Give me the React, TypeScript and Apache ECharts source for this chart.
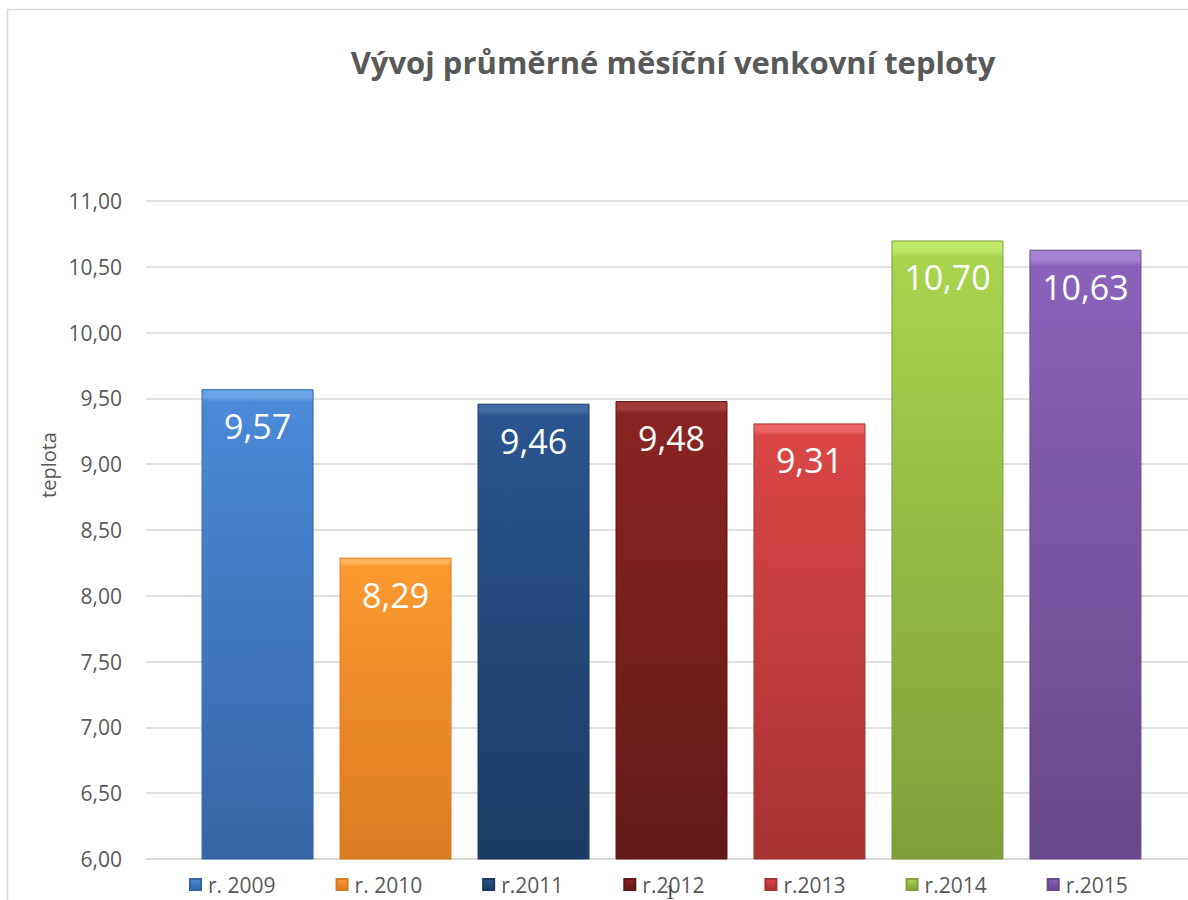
import React, { useEffect, useRef } from "react";
import * as echarts from "echarts";

const TITLE = "Vývoj průměrné měsíční venkovní teploty";
const Y_AXIS_NAME = "teplota";
const SERIES_NAMES = ["r. 2009", "r. 2010", "r.2011", "r.2012", "r.2013", "r.2014", "r.2015"];
const SERIES_VALUES = [9.57, 8.29, 9.46, 9.48, 9.31, 10.7, 10.63];
const TOP_COLORS = ["#4a8ad8", "#fb9a30", "#2a5590", "#8a2422", "#da4646", "#a9d44e", "#8a62bb"];
const BOTTOM_COLORS = ["#3565a6", "#dc7a22", "#1c3b63", "#621919", "#a63232", "#7f9e3a", "#664988"];
const BEVEL_COLORS = ["#6aa2e6", "#ffb35a", "#3f6aa3", "#a23b39", "#ea6464", "#c0e86a", "#a582d4"];
const Y_MIN = 6;
const Y_MAX = 11;
const Y_STEP = 0.5;

const fmt = (v: number) => v.toFixed(2).replace(".", ",");
const FONT = "'Open Sans', 'Noto Sans', sans-serif";

export default function App() {
  const ref = useRef<HTMLDivElement>(null);

  useEffect(() => {
    if (!ref.current) return;
    const chart = echarts.init(ref.current, undefined, { renderer: "svg" });

    const series = SERIES_NAMES.map((name, i) => ({
      name,
      type: "bar",
      data: [SERIES_VALUES[i]],
      barWidth: 112,
      barGap: "23.2%",
      itemStyle: {
        color: new echarts.graphic.LinearGradient(0, 0, 0, 1, [
          { offset: 0, color: BEVEL_COLORS[i] },
          { offset: 0.016, color: BEVEL_COLORS[i] },
          { offset: 0.026, color: TOP_COLORS[i] },
          { offset: 1, color: BOTTOM_COLORS[i] },
        ]),
        borderColor: BOTTOM_COLORS[i],
        borderWidth: 1,
      },
      label: {
        show: true,
        position: "insideTop",
        distance: 20,
        color: "#ffffff",
        fontSize: 34,
        fontFamily: FONT,
        formatter: (p: any) => fmt(p.value),
      },
    }));

    chart.setOption({
      animation: false,
      backgroundColor: "#ffffff",
      title: {
        text: TITLE,
        left: 668,
        top: 41,
        textAlign: "center",
        textStyle: {
          color: "#595959",
          fontSize: 31,
          fontWeight: "bold",
          fontFamily: FONT,
        },
      },
      legend: {
        left: 184,
        top: 869,
        itemWidth: 11,
        itemHeight: 11,
        itemGap: 60,
        icon: "rect",
        textStyle: { color: "#595959", fontSize: 21, fontFamily: FONT, padding: [0, 0, 0, 2] },
        data: SERIES_NAMES,
      },
      grid: { left: 146, right: 3, top: 201, bottom: 41, containLabel: false },
      xAxis: {
        type: "category",
        data: [""],
        axisLine: { show: true, lineStyle: { color: "#d9d9d9", width: 2 } },
        axisTick: { show: false },
        axisLabel: { show: false },
      },
      yAxis: {
        type: "value",
        min: Y_MIN,
        max: Y_MAX,
        interval: Y_STEP,
        axisLine: { show: false },
        axisTick: { show: false },
        axisLabel: {
          color: "#595959",
          fontSize: 21,
          fontFamily: FONT,
          margin: 24,
          formatter: (v: number) => fmt(v),
        },
        splitLine: { lineStyle: { color: "#d9d9d9", width: 1.5 } },
      },
      graphic: [
        {
          type: "rect",
          z: -10,
          silent: true,
          shape: { x: 7.5, y: 9.5, width: 1300, height: 1000 },
          style: { fill: "none", stroke: "#d9d9d9", lineWidth: 1.5 },
        },
        {
          type: "text",
          x: 48,
          y: 465,
          rotation: Math.PI / 2,
          style: {
            text: Y_AXIS_NAME,
            fill: "#595959",
            fontSize: 20,
            fontFamily: FONT,
            textAlign: "center",
            textVerticalAlign: "middle",
          },
        },
        {
          type: "text",
          x: 670,
          y: 882,
          z: 100,
          style: {
            text: "1",
            fill: "#404040",
            fontSize: 20,
            fontFamily: "'Liberation Serif', serif",
            textAlign: "center",
          },
        },
      ],
      series,
    });

    return () => chart.dispose();
  }, []);

  return (
    <div
      style={{
        position: "fixed",
        left: 0,
        top: 0,
        width: 1188,
        height: 900,
        overflow: "hidden",
        background: "#fff",
      }}
    >
      <div ref={ref} style={{ width: 1200, height: 900 }} />
    </div>
  );
}
